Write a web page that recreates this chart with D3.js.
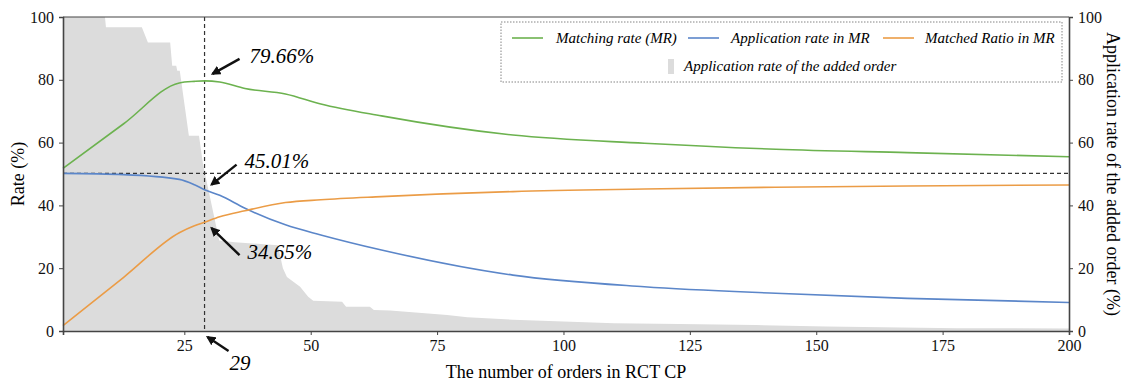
<!DOCTYPE html>
<html>
<head>
<meta charset="utf-8">
<script src="https://cdn.jsdelivr.net/npm/d3@7/dist/d3.min.js"></script>
<style>
  body { margin: 0; background: #fff; }
  .axis path, .axis line { stroke: #444; }
</style>
</head>
<body>
<div id="chart"></div>
<script>
// x positions (order number) where the curves were read
var orderNo = [1, 13, 24, 27, 29, 32, 37, 45, 52, 64, 90, 116, 142, 168, 200];
var matchingRate = [51.8, 66.0, 79.0, 79.5, 79.66, 79.3, 77.2, 75.5, 72.3, 68.5, 62.4, 59.8, 57.9, 56.8, 55.5];
var applicationRate = [50.2, 49.8, 48.3, 46.6, 45.01, 43.2, 39.1, 33.8, 30.6, 25.8, 17.8, 14.1, 12.0, 10.4, 9.1];
var matchedRatio = [1.7, 17.1, 31.3, 33.5, 34.65, 36.4, 38.3, 40.9, 41.8, 42.8, 44.4, 45.2, 45.8, 46.2, 46.5];

// application rate of the added order (grey area), stepped outline
var addedX = [1, 9.3, 9.5, 16.6, 17.8, 22.2, 22.6, 23.4, 23.6, 24.1, 25.9, 27.9, 28.7, 31.9, 35, 43.5, 44.5, 45.3, 47.9, 49.5, 50.5, 56.2, 57, 61.7, 62.5, 65.7, 77, 81, 90, 100, 110, 123, 138, 152, 178, 200];
var addedY = [100, 100, 96.7, 96.7, 91.9, 91.9, 84.5, 84.5, 82.9, 82.9, 62.2, 62.2, 53, 28.8, 28.3, 27.3, 20, 17.2, 14.1, 10.9, 9.6, 9.3, 7.7, 7.7, 6.7, 6.5, 5.1, 4.4, 3.6, 3.0, 2.5, 2.2, 1.9, 1.4, 0.9, 0.8];

var xTicks = [25, 50, 75, 100, 125, 150, 175, 200];
var yTicks = [0, 20, 40, 60, 80, 100];
var refX = 29, refY = 50.2;

var FONT = '"Liberation Serif", "Times New Roman", serif';
var W = 1124, H = 382;
var margin = {top: 17, right: 55, bottom: 51, left: 63};
var w = W - margin.left - margin.right, h = H - margin.top - margin.bottom;

var svg = d3.select('#chart').append('svg').attr('width', W).attr('height', H)
  .style('font-family', FONT);
var g = svg.append('g').attr('transform', 'translate(' + margin.left + ',' + margin.top + ')');

var x = d3.scaleLinear().domain([1, 200]).range([0, w]);
var y = d3.scaleLinear().domain([0, 100]).range([h, 0]);
var y2 = d3.scaleLinear().domain([0, 100]).range([h, 0]);

// grey area
var added = addedX.map(function(d, i) { return {x: d, y: addedY[i]}; });
g.append('path').datum(added)
  .attr('fill', '#dcdcdc')
  .attr('d', d3.area().x(d => x(d.x)).y0(h).y1(d => y2(d.y)));

// reference lines
g.append('line').attr('x1', 0).attr('x2', w).attr('y1', y(refY)).attr('y2', y(refY))
  .attr('stroke', '#333').attr('stroke-width', 1.2).attr('stroke-dasharray', '4,3');
g.append('line').attr('x1', x(refX)).attr('x2', x(refX)).attr('y1', 0).attr('y2', h)
  .attr('stroke', '#333').attr('stroke-width', 1.2).attr('stroke-dasharray', '4,3');

// curves
var series = [
  {name: 'Matching rate (MR)', vals: matchingRate, color: '#6cb24f'},
  {name: 'Application rate in MR', vals: applicationRate, color: '#5b86c9'},
  {name: 'Matched Ratio in MR', vals: matchedRatio, color: '#eb9c46'}
];
var line = d3.line().x(d => x(d[0])).y(d => y(d[1])).curve(d3.curveMonotoneX);
series.forEach(function(s) {
  g.append('path').datum(orderNo.map((o, i) => [o, s.vals[i]]))
    .attr('fill', 'none').attr('stroke', s.color).attr('stroke-width', 1.6)
    .attr('d', line);
});

// axes
function styleAxis(sel) {
  sel.attr('font-family', FONT).attr('font-size', 16);
  sel.select('.domain').attr('stroke-width', 1.6);
  sel.selectAll('text').attr('fill', '#111');
}
g.append('g').attr('class', 'axis').attr('transform', 'translate(0,' + h + ')')
  .call(d3.axisBottom(x).tickValues(xTicks).tickSize(4).tickPadding(5)).call(styleAxis);
g.append('g').attr('class', 'axis')
  .call(d3.axisLeft(y).tickValues(yTicks).tickSize(4).tickPadding(5)).call(styleAxis);
g.append('g').attr('class', 'axis').attr('transform', 'translate(' + w + ',0)')
  .call(d3.axisRight(y2).tickValues(yTicks).tickSize(4).tickPadding(5)).call(styleAxis);
g.append('line').attr('x1', 0).attr('x2', w).attr('y1', 0).attr('y2', 0).attr('stroke', '#444').attr('stroke-width', 1.2);

// axis titles
svg.append('text').attr('x', margin.left + w / 2).attr('y', 378)
  .attr('text-anchor', 'middle').style('font-size', '18px').text('The number of orders in RCT CP');
svg.append('text').attr('transform', 'translate(24,' + (margin.top + h / 2) + ') rotate(-90)')
  .attr('text-anchor', 'middle').style('font-size', '18px').text('Rate (%)');
svg.append('text').attr('transform', 'translate(1107,' + (margin.top + h / 2) + ') rotate(90)')
  .attr('text-anchor', 'middle').style('font-size', '18px').text('Application rate of the added order (%)');

// annotations
svg.append('defs').append('marker').attr('id', 'arr')
  .attr('viewBox', '0 0 10 10').attr('refX', 8).attr('refY', 5)
  .attr('markerWidth', 4).attr('markerHeight', 4).attr('orient', 'auto')
  .append('path').attr('d', 'M0,0 L10,5 L0,10 z').attr('fill', '#111');

var notes = [
  {px: refX, py: 79.66, tip: [8, -7], tail: [35, -22], label: '79.66%', tx: 45, ty: -18},
  {px: refX, py: 45.01, tip: [7, -5], tail: [32, -25], label: '45.01%', tx: 40, ty: -22},
  {px: refX, py: 34.65, tip: [7, 6], tail: [35, 33], label: '34.65%', tx: 43, ty: 37},
  {px: refX, py: 0, tip: [3, 6], tail: [24, 20], label: '29', tx: 25, ty: 39}
];
notes.forEach(function(n) {
  var cx = x(n.px), cy = y(n.py);
  g.append('line')
    .attr('x1', cx + n.tail[0]).attr('y1', cy + n.tail[1])
    .attr('x2', cx + n.tip[0]).attr('y2', cy + n.tip[1])
    .attr('stroke', '#111').attr('stroke-width', 2.4).attr('marker-end', 'url(#arr)');
  g.append('text').attr('x', cx + n.tx).attr('y', cy + n.ty)
    .style('font-size', '21px').style('font-style', 'italic').text(n.label);
});

// legend
var lg = svg.append('g');
lg.append('rect').attr('x', 501).attr('y', 22).attr('width', 561).attr('height', 60)
  .attr('fill', '#fff').attr('stroke', '#666').attr('stroke-width', 0.8).attr('stroke-dasharray', '1.5,1.5');
var lineX = [512, 688, 883], textX = [556, 731, 925];
series.forEach(function(s, i) {
  lg.append('line').attr('x1', lineX[i]).attr('x2', lineX[i] + 31).attr('y1', 38).attr('y2', 38)
    .attr('stroke', s.color).attr('stroke-width', 1.6);
  lg.append('text').attr('x', textX[i]).attr('y', 43)
    .style('font-size', '15px').style('font-style', 'italic').text(s.name);
});
lg.append('rect').attr('x', 668).attr('y', 59).attr('width', 6).attr('height', 15).attr('fill', '#dcdcdc');
lg.append('text').attr('x', 684).attr('y', 71)
  .style('font-size', '15px').style('font-style', 'italic').text('Application rate of the added order');
</script>
</body>
</html>
